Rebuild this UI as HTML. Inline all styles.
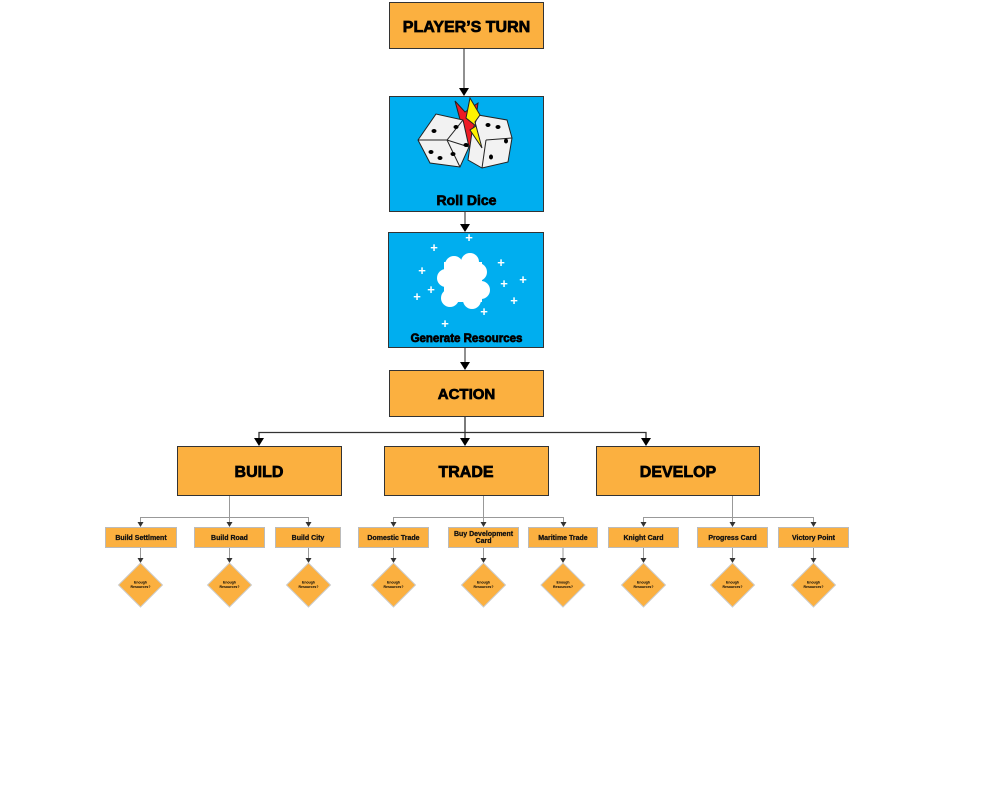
<!DOCTYPE html>
<html><head><meta charset="utf-8"><style>
html,body{margin:0;padding:0;background:#fff;}
svg{display:block;font-family:"Liberation Sans",Arial,sans-serif;font-weight:bold;}
.t{stroke:#000;stroke-width:0.7;}
</style></head><body>
<svg width="998" height="792" viewBox="0 0 998 792" xmlns="http://www.w3.org/2000/svg">
<defs>
<g id="dg">
<line x1="0" y1="548" x2="0" y2="559" stroke="#999"/>
<path d="M-3,558 L3,558 L0,563 z" fill="#333"/>
<polygon points="0,563 22,585 0,607 -22,585" fill="#fbb040" stroke="#ccc"/>
<text x="0" y="583.5" font-size="3.5" text-anchor="middle">Enough</text>
<text x="0" y="588" font-size="3.5" text-anchor="middle">Resources?</text>
</g>
</defs>
<!-- main boxes -->
<rect x="389.5" y="2.5" width="154" height="46" fill="#fbb040" stroke="#333"/>
<text class="t" x="466.5" y="32" font-size="16" text-anchor="middle">PLAYER’S TURN</text>
<line x1="464" y1="49" x2="464" y2="90" stroke="#222"/>
<path d="M459,88 L469,88 L464,96 z" fill="#000"/>

<rect x="389.5" y="96.5" width="154" height="115" fill="#00aeef" stroke="#333"/>
<g stroke="#222" stroke-width="1">
<polygon points="455,101 465,112 478,103 476,118 492,122 480,132 492,140 475,140 472,152 465,138" fill="#ed1c24"/>
<polygon points="478,115 507,120 512,138 508,162 482,168 468,160 472,132" fill="#f2f2f2"/>
<polygon points="436,114 418,140 430,163 460,167 469,147 463,120" fill="#f2f2f2"/>
<polyline points="418,140 447,140 463,120" fill="none"/>
<line x1="447" y1="140" x2="460" y2="167"/>
<line x1="447" y1="140" x2="469" y2="147"/>
<line x1="482" y1="168" x2="486" y2="140"/>
<line x1="486" y1="140" x2="512" y2="138"/>
<polygon points="470,98 466,118 476,126 470,130 482,148 475,122 480,115" fill="#fff200"/>
</g>
<g fill="#000">
<ellipse cx="434" cy="131" rx="2.5" ry="2"/><ellipse cx="456" cy="127" rx="2.5" ry="2"/>
<ellipse cx="431" cy="152" rx="2.5" ry="2"/><ellipse cx="440" cy="158" rx="2.5" ry="2"/>
<ellipse cx="453" cy="154" rx="2.5" ry="2"/><ellipse cx="466" cy="145" rx="2.5" ry="2"/>
<ellipse cx="498" cy="127" rx="2.5" ry="2"/><ellipse cx="488" cy="125" rx="2.5" ry="2"/>
<ellipse cx="506" cy="141" rx="2" ry="2.5"/><ellipse cx="491" cy="157" rx="2" ry="2.5"/>
</g>
<text class="t" x="466.5" y="205" font-size="14" text-anchor="middle">Roll Dice</text>
<line x1="465" y1="212" x2="465" y2="226" stroke="#222"/>
<path d="M460,224 L470,224 L465,232 z" fill="#000"/>

<rect x="388.5" y="232.5" width="155" height="115" fill="#00aeef" stroke="#333"/>
<g fill="#fff">
<circle cx="454" cy="265" r="9"/><circle cx="470" cy="262" r="9"/><circle cx="478" cy="272" r="9"/>
<circle cx="446" cy="278" r="9"/><circle cx="481" cy="290" r="9"/><circle cx="450" cy="298" r="9"/>
<circle cx="472" cy="300" r="9"/><rect x="444" y="262" width="38" height="40"/>
</g>
<g fill="#fff" font-size="13" text-anchor="middle">
<text x="469" y="242">+</text><text x="434" y="252">+</text><text x="422" y="275">+</text>
<text x="501" y="267">+</text><text x="504" y="288">+</text><text x="523" y="284">+</text>
<text x="431" y="294">+</text><text x="417" y="301">+</text><text x="514" y="305">+</text>
<text x="484" y="316">+</text><text x="445" y="328">+</text>
</g>
<text class="t" x="466.5" y="342" font-size="11.5" text-anchor="middle">Generate Resources</text>
<line x1="465" y1="348" x2="465" y2="364" stroke="#222"/>
<path d="M460,362 L470,362 L465,370 z" fill="#000"/>

<rect x="389.5" y="370.5" width="154" height="46" fill="#fbb040" stroke="#333"/>
<text class="t" x="466.5" y="399" font-size="15" text-anchor="middle">ACTION</text>

<g stroke="#333" fill="none" stroke-width="1.3">
<line x1="465" y1="417" x2="465" y2="440"/>
<polyline points="259,440 259,432.5 646,432.5 646,440"/>
</g>
<path d="M254,438 L264,438 L259,446 z M641,438 L651,438 L646,446 z M460,438 L470,438 L465,446 z" fill="#000"/>

<g fill="#fbb040" stroke="#333">
<rect x="177.5" y="446.5" width="164" height="49"/>
<rect x="384.5" y="446.5" width="164" height="49"/>
<rect x="596.5" y="446.5" width="163" height="49"/>
</g>
<g font-size="16" text-anchor="middle" class="t">
<text x="259" y="477">BUILD</text><text x="466" y="477">TRADE</text><text x="678" y="477">DEVELOP</text>
</g>

<!-- sub connectors -->
<g stroke="#999" fill="none" stroke-width="1">
<line x1="229.5" y1="496" x2="229.5" y2="523"/>
<polyline points="140.5,523 140.5,517.5 308.5,517.5 308.5,523"/>
<line x1="483.5" y1="496" x2="483.5" y2="523"/>
<polyline points="393.5,523 393.5,517.5 563.5,517.5 563.5,523"/>
<line x1="732.5" y1="496" x2="732.5" y2="523"/>
<polyline points="643.5,523 643.5,517.5 813.5,517.5 813.5,523"/>
</g>
<g fill="#333">
<path d="M137.5,522 h6 l-3,5z M226.5,522 h6 l-3,5z M305.5,522 h6 l-3,5z M390.5,522 h6 l-3,5z M480.5,522 h6 l-3,5z M560.5,522 h6 l-3,5z M640.5,522 h6 l-3,5z M729.5,522 h6 l-3,5z M810.5,522 h6 l-3,5z"/>
</g>

<g fill="#fbb040" stroke="#bbb">
<rect x="105.5" y="527.5" width="71" height="20"/>
<rect x="194.5" y="527.5" width="70" height="20"/>
<rect x="275.5" y="527.5" width="65" height="20"/>
<rect x="358.5" y="527.5" width="70" height="20"/>
<rect x="448.5" y="527.5" width="70" height="20"/>
<rect x="528.5" y="527.5" width="69" height="20"/>
<rect x="608.5" y="527.5" width="70" height="20"/>
<rect x="697.5" y="527.5" width="70" height="20"/>
<rect x="778.5" y="527.5" width="70" height="20"/>
</g>
<g font-size="7" text-anchor="middle" fill="#111" stroke="#111" stroke-width="0.25">
<text x="141" y="540">Build Settlment</text>
<text x="229.5" y="540">Build Road</text>
<text x="308" y="540">Build City</text>
<text x="393.5" y="540">Domestic Trade</text>
<text x="483.5" y="536">Buy Development</text><text x="483.5" y="543">Card</text>
<text x="563" y="540">Maritime Trade</text>
<text x="643.5" y="540">Knight Card</text>
<text x="732.5" y="540">Progress Card</text>
<text x="813.5" y="540">Victory Point</text>
</g>

<use href="#dg" x="140.5"/><use href="#dg" x="229.5"/><use href="#dg" x="308.5"/><use href="#dg" x="393.5"/>
<use href="#dg" x="483.5"/><use href="#dg" x="563"/><use href="#dg" x="643.5"/>
<use href="#dg" x="732.5"/><use href="#dg" x="813.5"/>
</svg>
</body></html>
